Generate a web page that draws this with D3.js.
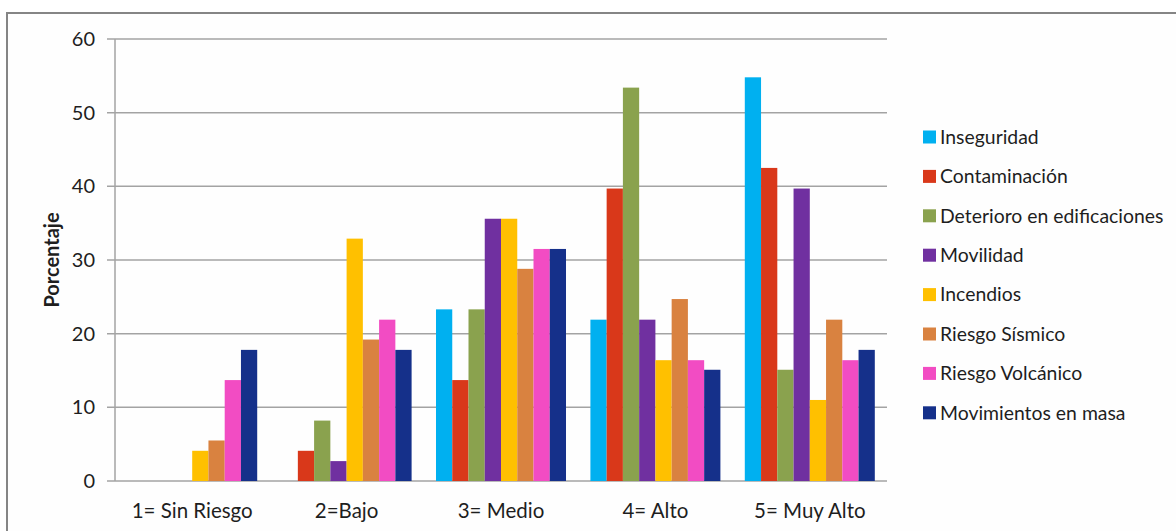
<!DOCTYPE html>
<html lang="es">
<head>
<meta charset="UTF-8">
<script src="https://d3js.org/d3.v7.min.js"></script>
<style>
  html, body { margin: 0; padding: 0; background: #fff; }
  text { font-family: Lato, 'Open Sans', sans-serif; fill: #1e1e1e; }
  .tick-label { font-size: 20px; }
  .cat-label { font-size: 20.5px; }
  .legend text { font-size: 19.4px; }
  .y-title { font-size: 20px; font-weight: bold; }
</style>
</head>
<body>
<div id="chart"></div>
<script>

  /////////////////////////
  //  Data               //
  /////////////////////////

  var categories = ['1= Sin Riesgo', '2=Bajo', '3= Medio', '4= Alto', '5= Muy Alto'];

  var seriesNames = ['Inseguridad', 'Contaminación', 'Deterioro en edificaciones', 'Movilidad',
    'Incendios', 'Riesgo Sísmico', 'Riesgo Volcánico', 'Movimientos en masa'];

  var seriesColors = ['#00b0f0', '#d9381a', '#8aa24e', '#7030a0', '#ffc000', '#d98240', '#f24cc3', '#15308a'];

  // one array per series, values for categories 1..5 (percent)
  var inseguridad = [0, 0, 23.3, 21.9, 54.8];
  var contaminacion = [0, 4.1, 13.7, 39.7, 42.5];
  var deterioro = [0, 8.2, 23.3, 53.4, 15.1];
  var movilidad = [0, 2.7, 35.6, 21.9, 39.7];
  var incendios = [4.1, 32.9, 35.6, 16.4, 11.0];
  var sismico = [5.5, 19.2, 28.8, 24.7, 21.9];
  var volcanico = [13.7, 21.9, 31.5, 16.4, 16.4];
  var movimientos = [17.8, 17.8, 31.5, 15.1, 17.8];

  var seriesValues = [inseguridad, contaminacion, deterioro, movilidad, incendios, sismico, volcanico, movimientos];

  var yTicks = [0, 10, 20, 30, 40, 50, 60];

  /////////////////////////
  //  Canvas             //
  /////////////////////////

  var width = 1176, height = 531;

  var svg = d3.select('#chart').append('svg')
    .attr('width', width)
    .attr('height', height);

  // outer frame of the chart object
  svg.append('rect')
    .attr('x', 7)
    .attr('y', 13)
    .attr('width', 1200)
    .attr('height', 600)
    .style('fill', '#fefefe')
    .style('stroke', '#858585')
    .style('stroke-width', 2);

  var plot = { left: 115, right: 887, top: 39, bottom: 481 };

  var y = d3.scaleLinear()
    .domain([0, 60])
    .range([plot.bottom, plot.top]);

  var x0 = d3.scaleBand()
    .domain(categories)
    .range([plot.left, plot.right])
    .paddingInner(0.158)
    .paddingOuter(0.079);

  var x1 = d3.scaleBand()
    .domain(seriesNames)
    .range([0, x0.bandwidth()])
    .padding(0);

  var color = d3.scaleOrdinal()
    .domain(seriesNames)
    .range(seriesColors);

  // gridlines
  svg.append('g').selectAll('line')
    .data(yTicks)
    .enter().append('line')
    .attr('x1', plot.left - 8)
    .attr('x2', plot.right)
    .attr('y1', function(d) { return y(d); })
    .attr('y2', function(d) { return y(d); })
    .style('stroke', '#a3a3a3')
    .style('stroke-width', 1.5);

  // bars
  var groups = svg.append('g').selectAll('g')
    .data(categories)
    .enter().append('g')
    .attr('transform', function(d) { return 'translate(' + x0(d) + ',0)'; });

  groups.selectAll('rect')
    .data(function(d, i) {
      return seriesNames.map(function(s, j) { return { name: s, value: seriesValues[j][i] }; });
    })
    .enter().append('rect')
    .attr('x', function(d) { return x1(d.name); })
    .attr('width', x1.bandwidth())
    .attr('y', function(d) { return y(d.value); })
    .attr('height', function(d) { return y(0) - y(d.value); })
    .style('fill', function(d) { return color(d.name); });

  // y axis line
  svg.append('line')
    .attr('x1', plot.left)
    .attr('x2', plot.left)
    .attr('y1', plot.top)
    .attr('y2', plot.bottom)
    .style('stroke', '#a3a3a3')
    .style('stroke-width', 1.5);

  // y tick labels
  svg.append('g').selectAll('text')
    .data(yTicks)
    .enter().append('text')
    .attr('class', 'tick-label')
    .attr('x', 95)
    .attr('y', function(d) { return y(d); })
    .attr('dy', '0.35em')
    .style('text-anchor', 'end')
    .text(function(d) { return d; });

  // category labels
  svg.append('g').selectAll('text')
    .data(categories)
    .enter().append('text')
    .attr('class', 'cat-label')
    .attr('x', function(d) { return x0(d) + x0.bandwidth() / 2; })
    .attr('y', 518)
    .style('text-anchor', 'middle')
    .text(function(d) { return d; });

  // y title
  svg.append('text')
    .attr('class', 'y-title')
    .attr('transform', 'translate(59,' + ((plot.top + plot.bottom) / 2) + ') rotate(-90)')
    .style('text-anchor', 'middle')
    .text('Porcentaje');

  // legend
  var legend = svg.append('g').selectAll('.legend')
    .data(seriesNames)
    .enter().append('g')
    .attr('class', 'legend')
    .attr('transform', function(d, i) { return 'translate(923,' + (137 + i * 39.4) + ')'; });

  legend.append('rect')
    .attr('x', 0)
    .attr('y', -6.5)
    .attr('width', 13)
    .attr('height', 13)
    .style('fill', function(d) { return color(d); });

  legend.append('text')
    .attr('x', 17)
    .attr('dy', '0.35em')
    .text(function(d) { return d; });

</script>
</body>
</html>
